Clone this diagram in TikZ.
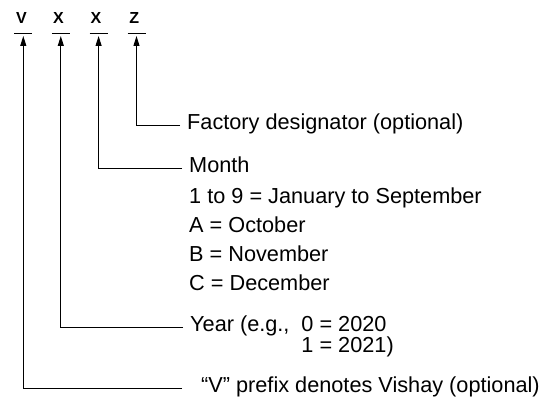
\documentclass[tikz,border=0pt]{standalone}
\usepackage{fontspec}
\setmainfont{Liberation Sans}
\usetikzlibrary{arrows.meta}
\newcommand{\barhalf}{9}

\begin{document}
\begin{tikzpicture}[x=1pt,y=-1pt,
    codechar/.style={font=\fontsize{16}{18}\selectfont\bfseries, inner sep=0pt, anchor=base},
    lbl/.style={font=\fontsize{21.7}{25}\selectfont, anchor=west, inner sep=7pt,
      text height=.72em, text depth=0pt},
    arr/.style={line width=1pt, -{Triangle[length=10pt,width=6pt]}}]
        \useasboundingbox (0,0) rectangle (550,401);
          % the code letters
        \node (V) at (21.5,23.4) [codechar] {V};
        \node (X1) at (58.5,23.4) [codechar] {X};
        \node (X2) at (96,23.4) [codechar] {X};
        \node (Z) at (134.3,23.4) [codechar] {Z};

          % bars and arrow tips under the letters
        \foreach \n/\x in {V/23.3,X1/60.8,X2/98.6,Z/136.5} {
          \draw[line width=1pt] (\x-\barhalf,33.3) -- (\x+\barhalf,33.3);
          \coordinate (tip\n) at (\x,36);
        }

          % what each letter means
        \node (fact) at (180,125.5) [lbl] {Factory designator (optional)};
        \node (month) at (182,169) [lbl] {Month};
        \node (m1) at (182,199.5) [lbl] {1 to 9 = January to September};
        \node (m2) at (182,228.5) [lbl] {A = October};
        \node (m3) at (182,257.5) [lbl] {B = November};
        \node (m4) at (182,286.5) [lbl] {C = December};
        \node (year) at (183,327.7) [lbl] {{\def\arraystretch{.76}%
          \begin{tabular}[t]{@{}l@{\hspace{.55em}}l@{}}Year (e.g., & 0 = 2020\\ & 1 = 2021)\end{tabular}}};
        \coordinate (vend) at (182,389);
        \node (vish) at (194,389) [lbl] {“V” prefix denotes Vishay (optional)};

        \draw[arr] (fact.west) -| (tipZ);
        \draw[arr] (month.west) -| (tipX2);
        \draw[arr] (year.west) -| (tipX1);
        \draw[arr] (vend) -| (tipV);
\end{tikzpicture}
\end{document}
